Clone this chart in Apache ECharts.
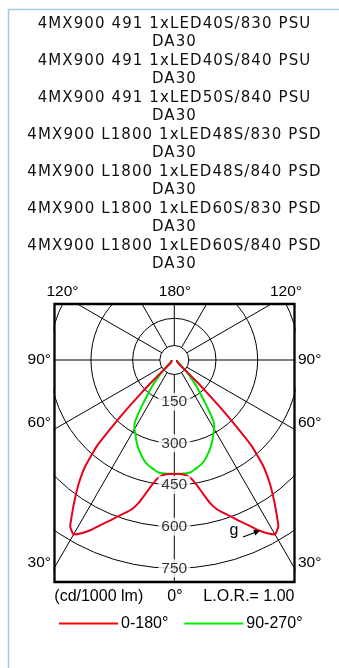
<!DOCTYPE html>
<html><head><meta charset="utf-8">
<script src="https://cdn.jsdelivr.net/npm/echarts@6/dist/echarts.min.js"></script>
<style>html,body{margin:0;padding:0;background:#fff;}#c{width:339px;height:668px;}</style>
</head><body><div id="c"></div>
<script>
// ---------------- data ----------------
const titleLines = [
  '4MX900 491 1xLED40S/830 PSU', 'DA30',
  '4MX900 491 1xLED40S/840 PSU', 'DA30',
  '4MX900 491 1xLED50S/840 PSU', 'DA30',
  '4MX900 L1800 1xLED48S/830 PSD', 'DA30',
  '4MX900 L1800 1xLED48S/840 PSD', 'DA30',
  '4MX900 L1800 1xLED60S/830 PSD', 'DA30',
  '4MX900 L1800 1xLED60S/840 PSD', 'DA30'
];
// gamma angles (degrees from nadir)
const gammaAngles = [0, 2, 4, 6, 8, 10, 12, 14, 16, 18, 20, 22, 24, 26, 28, 30, 32, 34, 36, 38, 40, 42, 43, 44, 45, 46, 48, 50, 55, 60, 70, 80, 90];
// C0-C180 plane (cd/1000 lm)
const plane0_180 = [410, 411, 412, 418, 430, 455, 490, 530, 560, 580, 600, 625, 650, 680, 705, 725, 707, 655, 605, 555, 498, 415, 330, 245, 165, 110, 30, 18, 14, 12, 10, 10, 10];
// C90-C270 plane (cd/1000 lm)
const plane90_270 = [410, 410, 410, 410, 409, 403, 396, 390, 381, 370, 357, 344, 330, 315, 299, 287, 270, 230, 185, 150, 125, 100, 89, 78, 68, 60, 45, 35, 24, 16, 11, 10, 10];
const ringTicks = [150, 300, 450, 600, 750];
const seriesNames = ['0-180°', '90-270°'];
const topDegreeLabels = ['120°', '180°', '120°'];
const sideDegreeLabels = ['90°', '60°', '30°'];
const bottomTexts = ['(cd/1000 lm)', '0°', 'L.O.R.= 1.00'];
const curveLabel = 'g';

// ---------------- layout ----------------
const CX = 174.3, CY = 360, PR = 250, RMAX = 900;
const FR = {x0: 54.5, y0: 304, x1: 294.5, y1: 582};
const LBL = '15.5px "Liberation Sans", Arial, sans-serif';
const LBL16 = '16px "Liberation Sans", Arial, sans-serif';
const TITLE_SPACING = '1.1px';

(function(){
  const P = CanvasRenderingContext2D.prototype;
  const orig = P.fillText;
  P.fillText = function(t, x, y, w) {
    if ('letterSpacing' in this) this.letterSpacing = /DejaVu/.test(this.font) ? TITLE_SPACING : '0px';
    return w === undefined ? orig.call(this, t, x, y) : orig.call(this, t, x, y, w);
  };
})();

function mirror(vals) {
  const pts = [];
  for (let i = gammaAngles.length - 1; i >= 0; i--) pts.push([vals[i], 360 - gammaAngles[i]]);
  for (let i = 1; i < gammaAngles.length; i++) pts.push([vals[i], gammaAngles[i]]);
  return pts;
}

const chart = echarts.init(document.getElementById('c'), null, {renderer: 'canvas'});

const white = '#fff';
const graphics = [
  {type: 'rect', shape: {x: 0, y: 0, width: 339, height: FR.y0 - 1}, style: {fill: white}, z: 10, silent: true},
  {type: 'rect', shape: {x: 0, y: FR.y1 + 1, width: 339, height: 668 - FR.y1}, style: {fill: white}, z: 10, silent: true},
  {type: 'rect', shape: {x: 0, y: 0, width: FR.x0 - 1, height: 668}, style: {fill: white}, z: 10, silent: true},
  {type: 'rect', shape: {x: FR.x1 + 1, y: 0, width: 339 - FR.x1, height: 668}, style: {fill: white}, z: 10, silent: true},
  {type: 'rect', shape: {x: FR.x0, y: FR.y0, width: FR.x1 - FR.x0, height: FR.y1 - FR.y0}, style: {fill: null, stroke: '#000', lineWidth: 2.3}, z: 11, silent: true},
  {type: 'line', shape: {x1: 8.5, y1: 9, x2: 8.5, y2: 668}, style: {stroke: '#a9cbe3', lineWidth: 1.5}, z: 12, silent: true},
  {type: 'line', shape: {x1: 8, y1: 9.5, x2: 339, y2: 9.5}, style: {stroke: '#a9cbe3', lineWidth: 1.5}, z: 12, silent: true},
  {type: 'circle', shape: {cx: CX, cy: CY, r: 14.5}, style: {fill: '#fff', stroke: '#000', lineWidth: 1}, z: 1, z2: 50, silent: true},
  {type: 'text', x: 46.5, y: 292, style: {text: topDegreeLabels[0], font: LBL, fill: '#000', textAlign: 'left', textVerticalAlign: 'middle'}, z: 12},
  {type: 'text', x: 174.8, y: 292, style: {text: topDegreeLabels[1], font: LBL, fill: '#000', textAlign: 'center', textVerticalAlign: 'middle'}, z: 12},
  {type: 'text', x: 302, y: 292, style: {text: topDegreeLabels[2], font: LBL, fill: '#000', textAlign: 'right', textVerticalAlign: 'middle'}, z: 12},
];
const sideY = [359.5, 422.5, 563];
sideDegreeLabels.forEach((t, i) => {
  graphics.push({type: 'text', x: 51, y: sideY[i], style: {text: t, font: LBL, fill: '#000', textAlign: 'right', textVerticalAlign: 'middle'}, z: 12});
  graphics.push({type: 'text', x: 298, y: sideY[i], style: {text: t, font: LBL, fill: '#000', textAlign: 'left', textVerticalAlign: 'middle'}, z: 12});
});
graphics.push({type: 'text', x: 54.3, y: 597, style: {text: bottomTexts[0], font: LBL16, fill: '#000', textAlign: 'left', textVerticalAlign: 'middle'}, z: 12});
graphics.push({type: 'text', x: 175, y: 597, style: {text: bottomTexts[1], font: LBL16, fill: '#000', textAlign: 'center', textVerticalAlign: 'middle'}, z: 12});
graphics.push({type: 'text', x: 294.5, y: 597, style: {text: bottomTexts[2], font: LBL16, fill: '#000', textAlign: 'right', textVerticalAlign: 'middle'}, z: 12});
graphics.push({type: 'text', x: 234, y: 531, style: {text: curveLabel, font: LBL16, fill: '#000', textAlign: 'center', textVerticalAlign: 'middle'}, z: 12});
graphics.push({type: 'line', shape: {x1: 243, y1: 537, x2: 255.5, y2: 532.3}, style: {stroke: '#000', lineWidth: 1.2}, z: 12});
graphics.push({type: 'polygon', shape: {points: [[260, 530.5], [255.4, 535.4], [253.2, 529.8]]}, style: {fill: '#000'}, z: 12});

const option = {
  animation: false,
  title: {
    text: titleLines.join('\n'),
    left: 174.5, top: 14.5, padding: 0, textAlign: 'center', z: 20,
    textStyle: {fontFamily: 'DejaVu Sans', fontSize: 15, fontWeight: 'normal', color: '#111', lineHeight: 18.5}
  },
  legend: {
    left: 54, top: 610.5, z: 20, icon: 'rect', itemWidth: 59, itemHeight: 2, itemGap: 16,
    textStyle: {fontFamily: 'Liberation Sans', fontSize: 16, color: '#000', padding: [0, 0, 0, -2]},
    data: [
      {name: seriesNames[0], itemStyle: {color: '#ff0000'}},
      {name: seriesNames[1], itemStyle: {color: '#00ee00'}}
    ]
  },
  polar: {center: [CX, CY], radius: PR},
  angleAxis: {
    type: 'value', min: 0, max: 360, interval: 30, startAngle: 270, clockwise: true, z: 0,
    axisLine: {show: false}, axisTick: {show: false}, axisLabel: {show: false},
    splitLine: {show: true, lineStyle: {color: '#000', width: 1}}
  },
  radiusAxis: {
    type: 'value', min: 0, max: RMAX, interval: 150, z: 0,
    axisLine: {show: false}, axisTick: {show: false}, axisLabel: {show: false},
    splitLine: {show: true, lineStyle: {color: ['rgba(0,0,0,0)', '#000', '#000', '#000', '#000', '#000', 'rgba(0,0,0,0)'], width: 1}}
  },
  graphic: {elements: graphics},
  series: [
    {
      name: seriesNames[1], type: 'line', coordinateSystem: 'polar', data: mirror(plane90_270),
      symbol: 'none', smooth: 0.12, z: 4, clip: false,
      lineStyle: {color: '#00e600', width: 2}, itemStyle: {color: '#00e600'}
    },
    {
      name: seriesNames[0], type: 'line', coordinateSystem: 'polar', data: mirror(plane0_180),
      symbol: 'none', smooth: 0.12, z: 5, clip: false,
      lineStyle: {color: '#e8001e', width: 2}, itemStyle: {color: '#e8001e'}
    },
    {
      type: 'scatter', coordinateSystem: 'polar', data: ringTicks.map(v => [v, 0]),
      symbolSize: 1, itemStyle: {color: 'rgba(0,0,0,0)'}, z: 6, silent: true,
      label: {show: true, position: 'inside', formatter: p => String(p.value[0]),
        fontFamily: 'Liberation Sans', fontSize: 15.5, color: '#000', backgroundColor: '#fff', padding: [1, 3]}
    }
  ]
};
chart.setOption(option);
</script></body></html>
